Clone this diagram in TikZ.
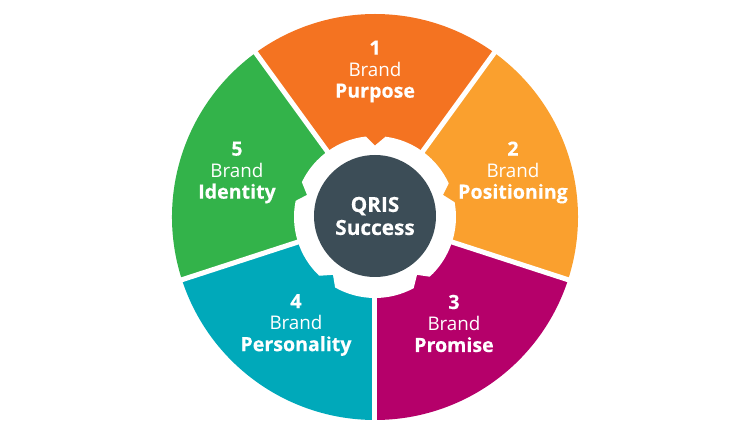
\documentclass[tikz,border=0pt]{standalone}
\usepackage{fontspec}
\setmainfont{Open Sans}
\definecolor{purposecol}{HTML}{F47321}
\definecolor{positioncol}{HTML}{FAA02E}
\definecolor{promisecol}{HTML}{B5006A}
\definecolor{personcol}{HTML}{00A9BA}
\definecolor{identitycol}{HTML}{33B34A}
\definecolor{hubcol}{HTML}{3C4D57}
\newcommand{\segbold}[1]{{\fontsize{19.6}{21.5}\selectfont\bfseries\addfontfeature{FakeBold=0.25}#1}}
\tikzset{
  seglabel/.style={text=white,align=center,font=\fontsize{18.8}{21.5}\selectfont,inner sep=0pt},
}
\begin{document}
\begin{tikzpicture}[line cap=butt,line join=round,x=1pt,y=1pt]
\useasboundingbox (-375,-216) rectangle (373,217);
% wedges
\foreach \a/\c in {54/purposecol,-18/positioncol,-90/promisecol,198/personcol,126/identitycol}
  \fill[\c] (0,0) -- (\a:203) arc[start angle=\a,delta angle=72,radius=203] -- cycle;
\foreach \a in {54,126,198,270,342}
  \draw[white,line width=5pt] (0,0) -- (\a:205);
% gear
\fill[white] (18:71.5) \foreach \c in {90,162,234,306,378}
  { -- ({\c-65.5}:81) arc[start angle=\c-65.5,end angle=\c-7.5,radius=81] -- (\c:71.5) } -- cycle;
\node[circle,fill=hubcol,minimum size=122pt,inner sep=0pt,text=white,align=center,
  font=\fontsize{20.8}{23}\selectfont\bfseries\addfontfeature{FakeBold=0.25}] (hub) at (0,1) {QRIS\\Success};
\node[seglabel] (purpose) at (0,145.5) {\segbold{1}\\Brand\\\segbold{Purpose}};
\node[seglabel] (positioning) at (138,44.5) {\segbold{2}\\Brand\\\segbold{Positioning}};
\node[seglabel] (promise) at (79,-106.5) {\segbold{3}\\Brand\\\segbold{Promise}};
\node[seglabel] (personality) at (-79,-108) {\segbold{4}\\Brand\\\segbold{Personality}};
\node[seglabel] (identity) at (-138,44.5) {\segbold{5}\\Brand\\\segbold{Identity}};
\end{tikzpicture}
\end{document}
